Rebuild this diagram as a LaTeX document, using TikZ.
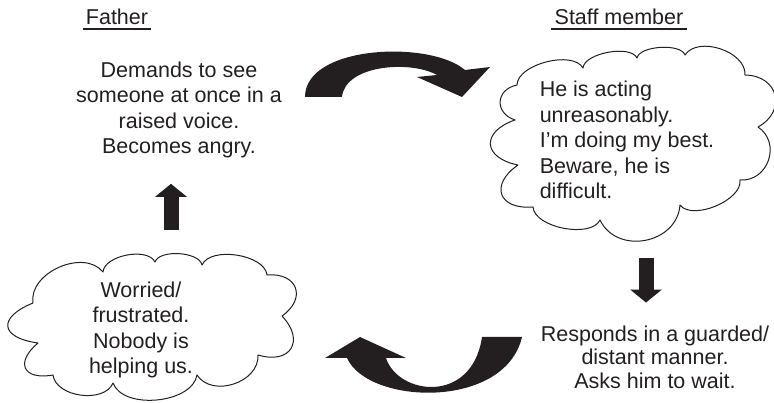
\documentclass[tikz,border=0pt]{standalone}
\usepackage{fontspec}
\setmainfont{Liberation Sans}
\usetikzlibrary{arrows.meta,positioning}
\definecolor{inkblack}{HTML}{231F20}
\tikzset{
  thought/.style={draw=inkblack,line width=1pt,line join=round},
  puff/.style={bend left=75,looseness=#1},
  says/.style={align=center,text=inkblack},
  header/.style={text=inkblack,inner xsep=3pt,inner ysep=0pt,anchor=base},
  underl/.style={draw=inkblack,line width=2pt},
  blockarrow/.style={draw=inkblack,line width=15pt,
    -{Triangle[width=31pt,length=13pt]}}
}

\begin{document}
\begin{tikzpicture}[x=1pt,y=-1pt,font=\fontsize{21.5}{25.5}\selectfont]
            \useasboundingbox (0,0) rectangle (774,403);
            \node[header](father) at (117,25) {Father};
            \node[header](staff) at (619,25) {Staff member};
            \draw[underl] ([yshift=-4pt]father.base west) --
            ([yshift=-4pt]father.base east);
            \draw[underl] ([yshift=-4pt]staff.base west) --
            ([yshift=-4pt]staff.base east);
            \node[says](fsays) at (179,110) {Demands to see\\someone at
            once in a\\raised voice.\\Becomes angry.};
            \draw[thought] (33,303) to[puff=1.02] (103,272)
            to[puff=.81] (155,262) to[puff=.74] (202,265) to[puff=.81]
            (267,275) to[puff=1.8] (282,316) to[puff=1.9] (258,355)
            to[puff=1.1] (197,375) to[puff=.88] (113,383) to[puff=.95]
            (53,375) to[puff=2.2] (38,343) to[puff=2.45] (33,303);
            \node[says](fthinks) at (141,330)
            {Worried/\\frustrated.\\Nobody is\\helping us.};
            \draw[thought] (517,85) to[puff=.78] (583,68) to[puff=.7]
            (637,58) to[puff=.67] (685,55) to[puff=.95] (745,75)
            to[puff=1.6] (758,127) to[puff=1.3] (740,180) to[puff=.8]
            (680,205) to[puff=1.23] (600,220) to[puff=.78] (533,207)
            to[puff=2] (518,165) to[puff=2.05] (515,120) to[puff=1.6]
            (517,85);
            \node[says,align=left](sthinks) at (627,140) {He is
            acting\\unreasonably.\\I’m doing my best.\\Beware, he
            is\\difficult.};
            \node[says,font=\fontsize{21.5}{23.5}\selectfont](ssays) at
            (655,357) {Responds in a guarded/\\distant manner.\\Asks
            him to wait.};
            \coordinate (upbase) at (171,230);
            \coordinate (downbase) at (646,258);
            \draw[blockarrow,shorten >=22pt] (upbase) -- (upbase |-
            fsays.south);
            \draw[blockarrow,shorten >=19.5pt] (downbase) -- (downbase
            |- ssays.north);
            \fill[inkblack] (305,97) .. controls (305,45) and (430,40)
            .. (465,70) -- (490,67) -- (462,97) -- (417,77) -- (437,75)
            .. controls (410,60) and (345,65) .. (342,97) -- cycle;
            \fill[inkblack] (522,337) -- (482,337) .. controls (472,405)
            and (398,395) .. (386,358) -- (406,358) -- (360,337) --
            (325,358) -- (347,358) .. controls (368,405) and (505,410)
            .. (522,337) -- cycle;
        \end{tikzpicture}
\end{document}
